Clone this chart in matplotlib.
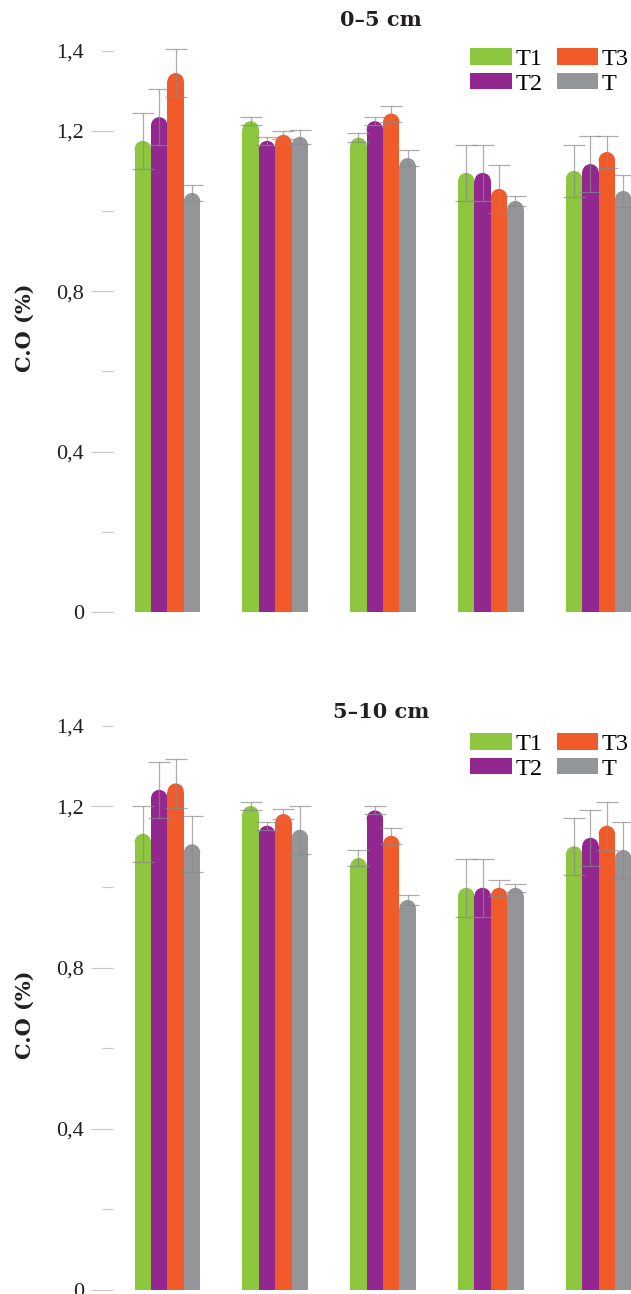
import matplotlib
matplotlib.use('Agg')
import matplotlib.pyplot as plt
import numpy as np
from matplotlib.patches import Ellipse

# data
series = ['T1', 'T2', 'T3', 'T']
colors = ['#8DC63F', '#92278F', '#F15A29', '#939598']
groups = [1, 2, 3, 4, 5]

# 0-5 cm
top_vals = [
    [1.175, 1.224, 1.183, 1.095, 1.100],   # T1
    [1.234, 1.175, 1.224, 1.095, 1.117],   # T2
    [1.344, 1.190, 1.243, 1.055, 1.147],   # T3
    [1.045, 1.185, 1.132, 1.025, 1.050],   # T
]
top_errs = [
    [0.070, 0.010, 0.011, 0.070, 0.065],
    [0.070, 0.010, 0.010, 0.070, 0.070],
    [0.060, 0.010, 0.020, 0.060, 0.040],
    [0.020, 0.018, 0.020, 0.013, 0.040],
]

# 5-10 cm
bot_vals = [
    [1.132, 1.201, 1.072, 0.998, 1.101],
    [1.241, 1.152, 1.190, 0.998, 1.122],
    [1.257, 1.181, 1.127, 0.998, 1.152],
    [1.106, 1.142, 0.968, 0.998, 1.092],
]
bot_errs = [
    [0.070, 0.010, 0.020, 0.072, 0.070],
    [0.070, 0.010, 0.010, 0.072, 0.070],
    [0.060, 0.012, 0.020, 0.020, 0.060],
    [0.070, 0.060, 0.012, 0.010, 0.070],
]

W, H = 631, 1294
fig = plt.figure(figsize=(W / 100, H / 100), dpi=100)
plt.rcParams['font.family'] = ['Liberation Serif', 'DejaVu Serif']

bar_w = 0.152
YMAX = 1.45


def draw_panel(ax, vals, errs, title, title_y, leg_y, label_y):
    x = np.arange(len(groups))
    ax.set_xlim(-0.505, 4.30)
    ax.set_ylim(0, YMAX)
    fig.canvas.draw()
    bb = ax.get_window_extent()
    px_x = bb.width / (4.30 + 0.505)
    px_y = bb.height / YMAX
    ry = (bar_w / 2) * px_x / px_y  # round cap radius in data units

    for k, name in enumerate(series):
        xs = x + (k - 1.5) * bar_w
        v = np.array(vals[k])
        ax.bar(xs, v - ry, width=bar_w, color=colors[k], linewidth=0,
               label=name, zorder=2)
        for xi, vi in zip(xs, v):
            ax.add_patch(Ellipse((xi, vi - ry), bar_w, 2 * ry,
                                 facecolor=colors[k], linewidth=0, zorder=2))
        ax.errorbar(xs, v, yerr=errs[k], fmt='none', ecolor='#8a8a8a',
                    elinewidth=0.9, capsize=8, capthick=0.9, alpha=0.7,
                    zorder=3)

    for s in ax.spines.values():
        s.set_visible(False)
    ax.set_xticks([])
    ax.set_yticks([0, 0.4, 0.8, 1.2])
    ax.set_yticklabels(['0', '0,4', '0,8', '1,2'])
    ax.set_yticks([0.2, 0.6, 1.0, 1.4], minor=True)
    ax.set_yticklabels(['', '', '', '1,4'], minor=True)
    ax.tick_params(axis='y', which='major', length=15.8, width=0.8,
                   color='#c8c8c8', pad=5, labelsize=16,
                   labelcolor='#231f20')
    ax.tick_params(axis='y', which='minor', length=7.9, width=0.8,
                   color='#c8c8c8', pad=13, labelsize=16,
                   labelcolor='#231f20')

    ax.text(0.517, title_y, title, transform=ax.transAxes, ha='center',
            va='center', fontsize=15, fontweight='bold', family='DejaVu Serif',
            color='#231f20')
    ax.set_ylabel('C.O (%)', fontsize=15, fontweight='bold',
                  family='DejaVu Serif', color='#231f20')
    ax.yaxis.set_label_coords(-0.151, label_y)

    ax.legend(ncol=2, loc='upper left', bbox_to_anchor=(0.69, leg_y),
              frameon=False, fontsize=17.5, handlelength=1.7,
              handleheight=0.68, handletextpad=0.15, columnspacing=0.6,
              labelspacing=0.12, borderpad=0, borderaxespad=0)


ax1 = fig.add_axes([113 / W, (H - 612) / H, 518 / W, YMAX * 401 / H])
ax2 = fig.add_axes([113 / W, (H - 1290) / H, 518 / W, YMAX * 403 / H])

draw_panel(ax1, top_vals, top_errs, '0–5 cm', (612 - 20) / (YMAX * 401),
           (612 - 48) / (YMAX * 401), 0.489)
draw_panel(ax2, bot_vals, bot_errs, '5–10 cm', (1290 - 712) / (YMAX * 403),
           (1290 - 733) / (YMAX * 403), 0.471)

fig.savefig('out.png', dpi=100)
